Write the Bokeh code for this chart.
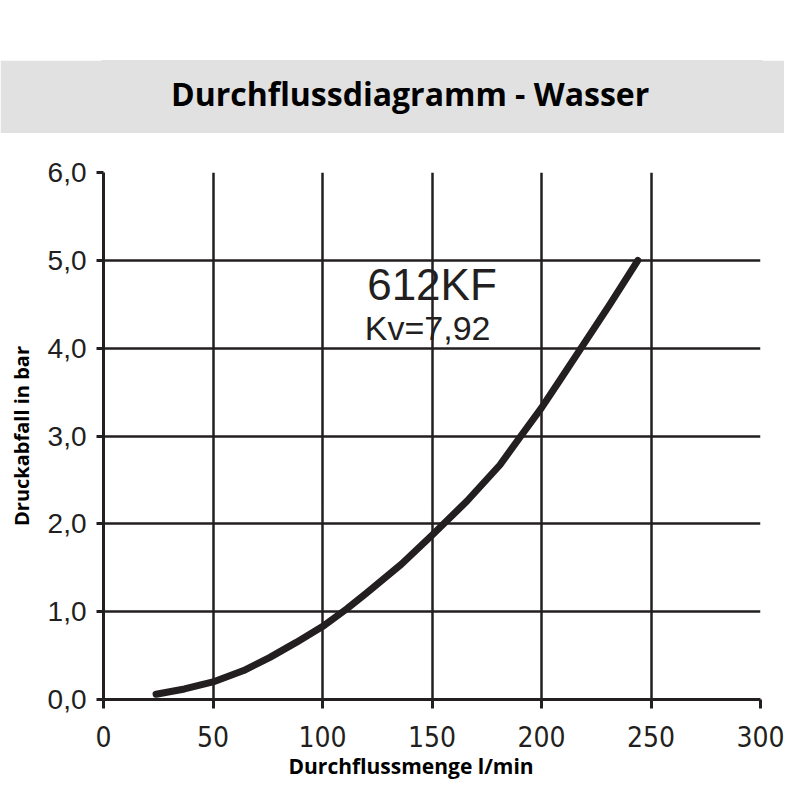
from bokeh.plotting import figure
from bokeh.layouts import column
from bokeh.models import FixedTicker, Label, Range1d, Spacer, Title
from bokeh.embed import file_html
from bokeh.resources import INLINE

# data
flow = [24, 37, 50, 64, 76, 88, 100, 111, 120, 136, 150, 166, 181, 190, 200, 208, 217, 231, 244]
drop = [0.06, 0.12, 0.20, 0.33, 0.48, 0.65, 0.83, 1.03, 1.21, 1.54, 1.87, 2.26, 2.67, 2.98,
        3.32, 3.62, 3.96, 4.49, 5.00]
x_ticks = [0, 50, 100, 150, 200, 250, 300]
y_ticks = [0, 1, 2, 3, 4, 5, 6]
y_tick_labels = ["0,0", "1,0", "2,0", "3,0", "4,0", "5,0", "6,0"]
title_text = "Durchflussdiagramm - Wasser"
x_title = "Durchflussmenge l/min"
y_title = "Druckabfall in bar"
model_name = "612KF"
kv_text = "Kv=7,92"

INK = "#231f20"
BAND = "#e1e1e1"
W = 784

# ---- grey title band ----
head = figure(width=W, height=73, output_backend="svg", toolbar_location=None,
              x_range=Range1d(0, 300), y_range=Range1d(73, 0),
              x_axis_type=None, y_axis_type=None,
              min_border_top=0, min_border_bottom=0, min_border_left=0, min_border_right=0)
head.outline_line_color = BAND
head.outline_line_width = 4
head.background_fill_color = BAND
head.border_fill_color = BAND
head.xgrid.visible = False
head.ygrid.visible = False
head.add_layout(Label(x=140, y=33, text=title_text, text_align="center",
                      text_baseline="alphabetic", text_font="Open Sans",
                      text_font_style="bold", text_font_size="32px", text_color="black"))

# ---- chart ----
p = figure(width=W, height=651, output_backend="svg", toolbar_location=None,
           x_range=Range1d(0, 300), y_range=Range1d(0, 6),
           min_border_left=103, min_border_right=24, min_border_top=39, min_border_bottom=85)
p.outline_line_color = None
p.background_fill_color = "white"
p.border_fill_color = "white"

p.xgrid.ticker = FixedTicker(ticks=x_ticks)
p.ygrid.ticker = FixedTicker(ticks=y_ticks)
for g in (p.xgrid, p.ygrid):
    g.grid_line_color = INK
    g.grid_line_width = 2.5
    g.grid_line_alpha = 1.0

xa = p.xaxis[0]
xa.ticker = FixedTicker(ticks=x_ticks)
xa.axis_line_color = INK
xa.axis_line_width = 3
xa.major_tick_line_color = INK
xa.major_tick_line_width = 3
xa.major_tick_out = 9
xa.major_tick_in = 0
xa.minor_tick_line_color = None
xa.major_label_text_font = "DejaVu Sans Condensed"
xa.major_label_text_font_size = "28px"
xa.major_label_text_color = INK
xa.major_label_standoff = 17

# x axis title, placed below the axis (left-aligned with an offset like the reference)
p.add_layout(Title(text=x_title, align="left", offset=185, standoff=0,
                   text_font="Open Sans", text_font_style="bold",
                   text_font_size="21px", text_color="black"), "below")

ya = p.yaxis[0]
ya.ticker = FixedTicker(ticks=y_ticks)
ya.major_label_overrides = {t: l for t, l in zip(y_ticks, y_tick_labels)}
ya.axis_line_color = INK
ya.axis_line_width = 3
ya.major_tick_line_color = INK
ya.major_tick_line_width = 3
ya.major_tick_out = 7
ya.major_tick_in = 0
ya.minor_tick_line_color = None
ya.major_label_text_font = "Liberation Sans"
ya.major_label_text_font_size = "28px"
ya.major_label_text_color = INK
ya.major_label_standoff = 10
ya.axis_label = y_title
ya.axis_label_text_font = "Open Sans"
ya.axis_label_text_font_style = "bold"
ya.axis_label_text_font_size = "20px"
ya.axis_label_text_color = "black"
ya.axis_label_standoff = 10

p.line(flow, drop, line_color=INK, line_width=7, line_cap="round", line_join="round")

p.add_layout(Label(x=150, y=4.72, text=model_name, text_align="center",
                   text_baseline="alphabetic", text_font="Liberation Sans",
                   text_font_size="44px", text_color=INK))
p.add_layout(Label(x=148, y=4.23, text=kv_text, text_align="center",
                   text_baseline="alphabetic", text_font="Liberation Sans",
                   text_font_size="34px", text_color=INK))

layout = column(Spacer(width=W, height=60), head, p, spacing=0)
open("out.html", "w").write(file_html(layout, INLINE))
